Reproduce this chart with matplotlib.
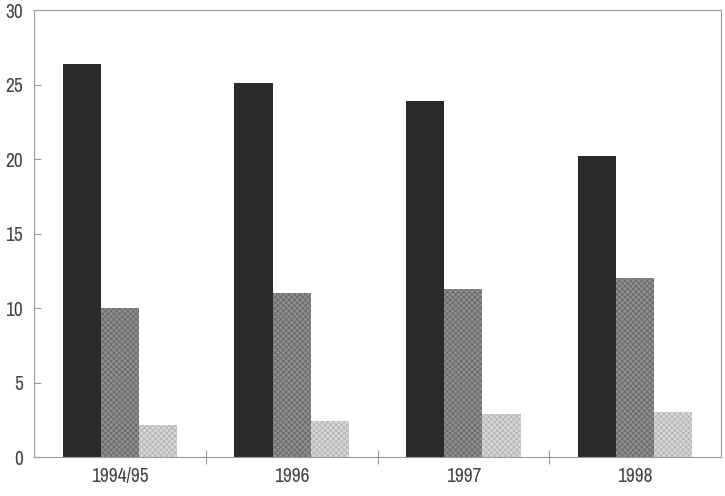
import matplotlib
matplotlib.use('Agg')
import matplotlib.pyplot as plt
from matplotlib import font_manager
import numpy as np

categories = ['1994/95', '1996', '1997', '1998']
series_a = [26.4, 25.1, 23.9, 20.2]
series_b = [10.0, 11.0, 11.3, 12.0]
series_c = [2.15, 2.4, 2.9, 3.0]

# pick a narrow face if one is around, the original uses a condensed font
names = sorted({f.name for f in font_manager.fontManager.ttflist})
narrow = [n for n in names if 'Narrow' in n or 'Condensed' in n]
plt.rcParams['font.family'] = narrow[:1] + ['DejaVu Sans']
plt.rcParams['font.stretch'] = 'condensed'
plt.rcParams['hatch.linewidth'] = 0.6

fig = plt.figure(figsize=(7.25, 4.96), dpi=100)
ax = fig.add_axes([0.0469, 0.0786, 0.9476, 0.9012])

x = np.arange(len(categories))
w = 0.222
ax.bar(x - w, series_a, w, color='#2b2a2a', linewidth=0)
ax.bar(x, series_b, w, color='#8f8f8f', hatch='xxxxxx', edgecolor='#666666', linewidth=0)
ax.bar(x + w, series_c, w, color='#d8d8d8', hatch='xxxxxx', edgecolor='#b2b2b2', linewidth=0)

ax.set_xlim(-0.5, len(categories) - 0.5)
ax.set_ylim(0, 30)
ax.set_yticks(range(0, 31, 5))
ax.set_xticks(x)
ax.set_xticklabels(categories)
ax.set_xticks(x[:-1] + 0.5, minor=True)

text_color = '#444444'
for s in ax.spines.values():
    s.set_color('#9a9a9a')
    s.set_linewidth(0.8)

ax.tick_params(axis='y', direction='in', length=5, width=0.8, color='#9a9a9a',
               labelsize=14, labelcolor=text_color, pad=8)
ax.tick_params(axis='x', which='major', length=0, labelsize=14, labelcolor=text_color, pad=7)
ax.tick_params(axis='x', which='minor', direction='inout', length=10, width=0.8, color='#9a9a9a')

fig.savefig('out.png', dpi=100)
